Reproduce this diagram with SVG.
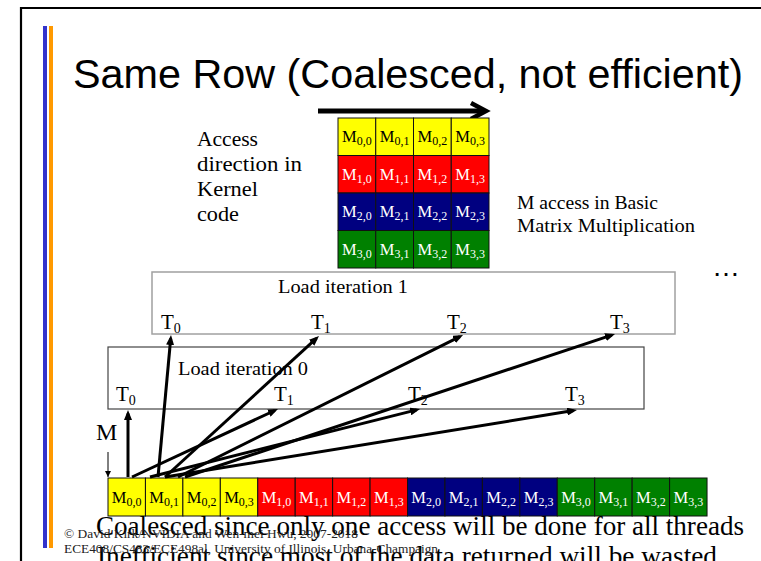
<svg xmlns="http://www.w3.org/2000/svg" width="761" height="561" viewBox="0 0 761 561">
  <defs>
    <marker id="head" markerUnits="userSpaceOnUse" viewBox="0 0 10 8" refX="6.5" refY="4" markerWidth="10" markerHeight="8" orient="auto">
      <path d="M0,0 L10,4 L0,8 z" fill="#000"/>
    </marker>
    <marker id="smallhead" markerUnits="userSpaceOnUse" viewBox="0 0 6 6" refX="6" refY="3" markerWidth="6" markerHeight="6" orient="auto">
      <path d="M0,0 L6,3 L0,6 z" fill="#000"/>
    </marker>
    <style>
      .serif { font-family: "Liberation Serif", "Times New Roman", serif; }
      .title { font-family: "Liberation Sans", Arial, sans-serif; font-size: 41.3px; fill: #000; }
      .cell { stroke: #111; stroke-width: 1; }
      .y { fill: #ffff00; }
      .r { fill: #ff0000; }
      .b { fill: #000080; }
      .g { fill: #008000; }
      .lbl { font-family: "Liberation Serif", "Times New Roman", serif; font-size: 16.5px; text-anchor: middle; }
      .dark { fill: #000; }
      .light { fill: #fff; }
      .sub { font-size: 12px; }
      .tl { font-family: "Liberation Serif", "Times New Roman", serif; font-size: 21px; fill: #000; }
      .tsub { font-size: 14px; }
      .box1 { fill: none; stroke: #a0a0a0; stroke-width: 1.5; }
      .box0 { fill: none; stroke: #444; stroke-width: 1.2; }
      .conn { stroke: #000; stroke-width: 3; fill: none; marker-end: url(#head); }
    </style>
  </defs>

  <rect width="761" height="561" fill="#fff"/>

  <!-- slide frame and side bars -->
  <path d="M21,561 L21,8 L761,8" fill="none" stroke="#000" stroke-width="2.2"/>
  <rect x="43" y="26" width="4" height="522" fill="#3333cc"/>
  <rect x="49" y="26" width="4" height="522" fill="#ff9900"/>

  <text class="title" x="73" y="88" textLength="670" lengthAdjust="spacingAndGlyphs">Same Row (Coalesced, not efficient)</text>

  <!-- kernel access direction -->
  <g id="access-direction">
    <line x1="318" y1="111" x2="484" y2="111" stroke="#000" stroke-width="5"/>
    <polyline points="471,103 486,111 471,119" fill="none" stroke="#000" stroke-width="4.5" stroke-linejoin="miter"/>
    <g class="serif" font-size="20.5" fill="#000">
      <text x="197" y="146" textLength="61" lengthAdjust="spacingAndGlyphs">Access</text>
      <text x="197" y="171" textLength="105" lengthAdjust="spacingAndGlyphs">direction in</text>
      <text x="197" y="196" textLength="61" lengthAdjust="spacingAndGlyphs">Kernel</text>
      <text x="197" y="221" textLength="42" lengthAdjust="spacingAndGlyphs">code</text>
    </g>
  </g>

  <!-- 4x4 matrix M -->
  <g id="matrix">
    <g>
      <rect class="cell y" x="338" y="118" width="37.75" height="37.5"/>
      <rect class="cell y" x="375.75" y="118" width="37.75" height="37.5"/>
      <rect class="cell y" x="413.5" y="118" width="37.75" height="37.5"/>
      <rect class="cell y" x="451.25" y="118" width="37.75" height="37.5"/>
      <rect class="cell r" x="338" y="155.5" width="37.75" height="37.5"/>
      <rect class="cell r" x="375.75" y="155.5" width="37.75" height="37.5"/>
      <rect class="cell r" x="413.5" y="155.5" width="37.75" height="37.5"/>
      <rect class="cell r" x="451.25" y="155.5" width="37.75" height="37.5"/>
      <rect class="cell b" x="338" y="193" width="37.75" height="37.5"/>
      <rect class="cell b" x="375.75" y="193" width="37.75" height="37.5"/>
      <rect class="cell b" x="413.5" y="193" width="37.75" height="37.5"/>
      <rect class="cell b" x="451.25" y="193" width="37.75" height="37.5"/>
      <rect class="cell g" x="338" y="230.5" width="37.75" height="37.5"/>
      <rect class="cell g" x="375.75" y="230.5" width="37.75" height="37.5"/>
      <rect class="cell g" x="413.5" y="230.5" width="37.75" height="37.5"/>
      <rect class="cell g" x="451.25" y="230.5" width="37.75" height="37.5"/>
    </g>
    <g class="lbl">
      <text class="dark" x="356.9" y="142">M<tspan class="sub" dy="3">0,0</tspan></text>
      <text class="dark" x="394.6" y="142">M<tspan class="sub" dy="3">0,1</tspan></text>
      <text class="dark" x="432.4" y="142">M<tspan class="sub" dy="3">0,2</tspan></text>
      <text class="dark" x="470.1" y="142">M<tspan class="sub" dy="3">0,3</tspan></text>
      <text class="light" x="356.9" y="179.5">M<tspan class="sub" dy="3">1,0</tspan></text>
      <text class="light" x="394.6" y="179.5">M<tspan class="sub" dy="3">1,1</tspan></text>
      <text class="light" x="432.4" y="179.5">M<tspan class="sub" dy="3">1,2</tspan></text>
      <text class="light" x="470.1" y="179.5">M<tspan class="sub" dy="3">1,3</tspan></text>
      <text class="light" x="356.9" y="217">M<tspan class="sub" dy="3">2,0</tspan></text>
      <text class="light" x="394.6" y="217">M<tspan class="sub" dy="3">2,1</tspan></text>
      <text class="light" x="432.4" y="217">M<tspan class="sub" dy="3">2,2</tspan></text>
      <text class="light" x="470.1" y="217">M<tspan class="sub" dy="3">2,3</tspan></text>
      <text class="light" x="356.9" y="254.5">M<tspan class="sub" dy="3">3,0</tspan></text>
      <text class="light" x="394.6" y="254.5">M<tspan class="sub" dy="3">3,1</tspan></text>
      <text class="light" x="432.4" y="254.5">M<tspan class="sub" dy="3">3,2</tspan></text>
      <text class="light" x="470.1" y="254.5">M<tspan class="sub" dy="3">3,3</tspan></text>
    </g>
  </g>

  <g id="matrix-caption" class="serif" font-size="19" fill="#000">
    <text x="517" y="209" textLength="141" lengthAdjust="spacingAndGlyphs">M access in Basic</text>
    <text x="517" y="232" textLength="178" lengthAdjust="spacingAndGlyphs">Matrix Multiplication</text>
  </g>

  <text id="ellipsis" x="712" y="276" font-family="Liberation Sans, Arial, sans-serif" font-size="28" fill="#000">…</text>

  <!-- load iteration 1 -->
  <g id="load-iteration-1">
    <rect class="box1" x="152" y="272" width="523" height="62"/>
    <text class="serif" x="278" y="293" font-size="18.5" textLength="130" lengthAdjust="spacingAndGlyphs" fill="#000">Load iteration 1</text>
    <text class="tl" x="161" y="329">T<tspan class="tsub" dy="4">0</tspan></text>
    <text class="tl" x="311" y="329">T<tspan class="tsub" dy="4">1</tspan></text>
    <text class="tl" x="447" y="329">T<tspan class="tsub" dy="4">2</tspan></text>
    <text class="tl" x="610" y="329">T<tspan class="tsub" dy="4">3</tspan></text>
  </g>

  <!-- load iteration 0 -->
  <g id="load-iteration-0">
    <rect class="box0" x="108" y="347" width="536" height="62"/>
    <text class="serif" x="178" y="375" font-size="18.5" textLength="130" lengthAdjust="spacingAndGlyphs" fill="#000">Load iteration 0</text>
    <text class="tl" x="116" y="401">T<tspan class="tsub" dy="4">0</tspan></text>
    <text class="tl" x="274" y="401">T<tspan class="tsub" dy="4">1</tspan></text>
    <text class="tl" x="408" y="401">T<tspan class="tsub" dy="4">2</tspan></text>
    <text class="tl" x="565" y="401">T<tspan class="tsub" dy="4">3</tspan></text>
  </g>

  <!-- linearised M in memory -->
  <g id="memory-label">
    <text class="serif" x="96" y="440" font-size="24" fill="#000">M</text>
    <line x1="108" y1="452" x2="108" y2="477" stroke="#000" stroke-width="1" marker-end="url(#smallhead)"/>
  </g>

  <g id="memory-row">
    <g>
      <rect class="cell y" x="108" y="478" width="37.44" height="38"/>
      <rect class="cell y" x="145.44" y="478" width="37.44" height="38"/>
      <rect class="cell y" x="182.88" y="478" width="37.44" height="38"/>
      <rect class="cell y" x="220.32" y="478" width="37.44" height="38"/>
      <rect class="cell r" x="257.76" y="478" width="37.44" height="38"/>
      <rect class="cell r" x="295.2" y="478" width="37.44" height="38"/>
      <rect class="cell r" x="332.64" y="478" width="37.44" height="38"/>
      <rect class="cell r" x="370.08" y="478" width="37.44" height="38"/>
      <rect class="cell b" x="407.52" y="478" width="37.44" height="38"/>
      <rect class="cell b" x="444.96" y="478" width="37.44" height="38"/>
      <rect class="cell b" x="482.4" y="478" width="37.44" height="38"/>
      <rect class="cell b" x="519.84" y="478" width="37.44" height="38"/>
      <rect class="cell g" x="557.28" y="478" width="37.44" height="38"/>
      <rect class="cell g" x="594.72" y="478" width="37.44" height="38"/>
      <rect class="cell g" x="632.16" y="478" width="37.44" height="38"/>
      <rect class="cell g" x="669.6" y="478" width="37.44" height="38"/>
    </g>
    <g class="lbl">
      <text class="dark" x="126.7" y="503">M<tspan class="sub" dy="3">0,0</tspan></text>
      <text class="dark" x="164.2" y="503">M<tspan class="sub" dy="3">0,1</tspan></text>
      <text class="dark" x="201.6" y="503">M<tspan class="sub" dy="3">0,2</tspan></text>
      <text class="dark" x="239" y="503">M<tspan class="sub" dy="3">0,3</tspan></text>
      <text class="light" x="276.5" y="503">M<tspan class="sub" dy="3">1,0</tspan></text>
      <text class="light" x="313.9" y="503">M<tspan class="sub" dy="3">1,1</tspan></text>
      <text class="light" x="351.4" y="503">M<tspan class="sub" dy="3">1,2</tspan></text>
      <text class="light" x="388.8" y="503">M<tspan class="sub" dy="3">1,3</tspan></text>
      <text class="light" x="426.2" y="503">M<tspan class="sub" dy="3">2,0</tspan></text>
      <text class="light" x="463.7" y="503">M<tspan class="sub" dy="3">2,1</tspan></text>
      <text class="light" x="501.1" y="503">M<tspan class="sub" dy="3">2,2</tspan></text>
      <text class="light" x="538.6" y="503">M<tspan class="sub" dy="3">2,3</tspan></text>
      <text class="light" x="576" y="503">M<tspan class="sub" dy="3">3,0</tspan></text>
      <text class="light" x="613.4" y="503">M<tspan class="sub" dy="3">3,1</tspan></text>
      <text class="light" x="650.9" y="503">M<tspan class="sub" dy="3">3,2</tspan></text>
      <text class="light" x="688.3" y="503">M<tspan class="sub" dy="3">3,3</tspan></text>
    </g>
  </g>

  <!-- thread loads: memory words to threads -->
  <g id="connectors">
    <line class="conn" x1="128" y1="477" x2="128" y2="413.5"/>
    <line class="conn" x1="132" y1="477" x2="274.8" y2="410.5"/>
    <line class="conn" x1="150" y1="477" x2="416.6" y2="409.9"/>
    <line class="conn" x1="165" y1="477" x2="573.5" y2="410.6"/>
    <line class="conn" x1="158" y1="477" x2="170.7" y2="338.5"/>
    <line class="conn" x1="165" y1="477" x2="316.4" y2="338.4"/>
    <line class="conn" x1="178" y1="477" x2="459.9" y2="336.6"/>
    <line class="conn" x1="185" y1="477" x2="611.7" y2="335.1"/>
  </g>

  <!-- notes -->
  <g id="notes" class="serif" fill="#000">
    <text x="96" y="535" font-size="27" textLength="648" lengthAdjust="spacingAndGlyphs">Coalesced since only one access will be done for all threads</text>
    <text x="97" y="565" font-size="27" textLength="620" lengthAdjust="spacingAndGlyphs">Inefficient since most of the data returned will be wasted</text>
  </g>

  <g id="footer" class="serif" fill="#222">
    <text x="64" y="538" font-size="12.5" textLength="294" lengthAdjust="spacingAndGlyphs">© David Kirk/NVIDIA and Wen-mei Hwu, 2007-2018</text>
    <text x="64" y="553" font-size="12.5" textLength="374" lengthAdjust="spacingAndGlyphs">ECE408/CS483/ECE498al, University of Illinois, Urbana-Champaign</text>
  </g>
</svg>
